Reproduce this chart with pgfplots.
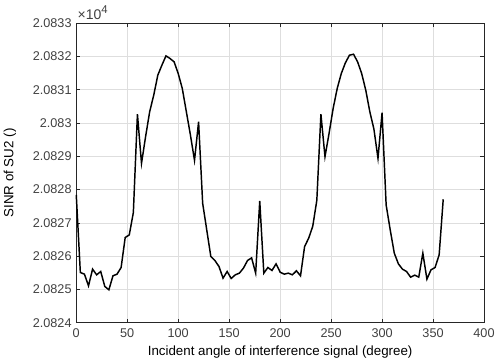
\documentclass[border=0pt]{standalone}
\usepackage{fontspec}
\setmainfont{Liberation Sans}
\usepackage{pgfplots}
\pgfplotsset{compat=1.18}
\definecolor{axgray}{RGB}{38,38,38}
\definecolor{tickgray}{RGB}{64,64,64}
\definecolor{gridgray}{RGB}{222,222,222}
\begin{document}
\begin{tikzpicture}
\useasboundingbox (0,0) rectangle (372pt,270.75pt);
\begin{axis}[
  at={(57.2pt,28.7pt)}, anchor=south west,
  scale only axis, width=305.8pt, height=224.6pt,
  xmin=0, xmax=400, ymin=2.0824, ymax=2.0833,
  xtick={0,50,100,150,200,250,300,350,400},
  ytick={2.0824,2.0825,2.0826,2.0827,2.0828,2.0829,2.0830,2.0831,2.0832,2.0833},
  scaled y ticks=false, scaled x ticks=false,
  yticklabel style={/pgf/number format/fixed,/pgf/number format/precision=4},
  /pgf/number format/assume math mode=true,
  tick label style={font=\fontsize{9.5}{11}\selectfont, text=tickgray},
  label style={font=\fontsize{10.3}{12}\selectfont, text=tickgray},
  xlabel={Incident angle of interference signal (degree)},
  ylabel={SINR of SU2 ()},
  every axis x label/.style={at={(axis description cs:0.5,-0.098)}, anchor=center},
  every axis y label/.style={at={(axis description cs:-0.163,0.5)}, rotate=90, anchor=center},
  xticklabel style={yshift=-1pt},
  grid=major,
  major grid style={gridgray, line width=0.5pt},
  axis line style={axgray, line width=0.6pt},
  tick style={axgray, line width=0.5pt},
  tick align=inside,
  major tick length=3pt,
  xtick pos=both, ytick pos=both,
  clip=false,
]
\addplot[black, line width=1.1pt] table {
x y
0 2.082784
4 2.082551
8 2.082546
12 2.082511
16 2.082561
20 2.082544
24 2.082554
28 2.082509
32 2.082499
36 2.082541
40 2.082546
44 2.082566
48 2.082656
52 2.082664
56 2.082731
60 2.083027
64 2.082879
68 2.082959
72 2.083034
76 2.083084
80 2.083144
84 2.083174
88 2.083202
92 2.083194
96 2.083184
100 2.083149
104 2.083104
108 2.083034
112 2.082964
116 2.082888
120 2.083004
124 2.082759
128 2.082679
132 2.082599
136 2.082587
140 2.082569
144 2.082534
148 2.082554
152 2.082533
156 2.082544
160 2.082549
164 2.082564
168 2.082587
172 2.082595
176 2.082549
180 2.082766
184 2.082549
188 2.082566
192 2.082557
196 2.082577
200 2.082552
204 2.082546
208 2.082549
212 2.082544
216 2.082556
220 2.082541
224 2.082629
228 2.082654
232 2.082690
236 2.082768
240 2.083027
244 2.082899
248 2.082969
252 2.083044
256 2.083104
260 2.083149
264 2.083181
268 2.083204
272 2.083207
276 2.083184
280 2.083149
284 2.083099
288 2.083034
292 2.082982
296 2.082894
300 2.083031
304 2.082754
308 2.082679
312 2.082609
316 2.082577
320 2.082561
324 2.082554
328 2.082537
332 2.082543
336 2.082537
340 2.082609
344 2.082531
348 2.082559
352 2.082566
356 2.082604
360 2.082771
};
\node[anchor=base west, font=\fontsize{10.5}{12}\selectfont, text=tickgray, inner sep=0pt] at ([xshift=0.8pt,yshift=2.8pt]rel axis cs:0,1) {×10\raisebox{0.85ex}{\fontsize{8.5}{9}\selectfont 4}};
\end{axis}
\end{tikzpicture}
\end{document}
